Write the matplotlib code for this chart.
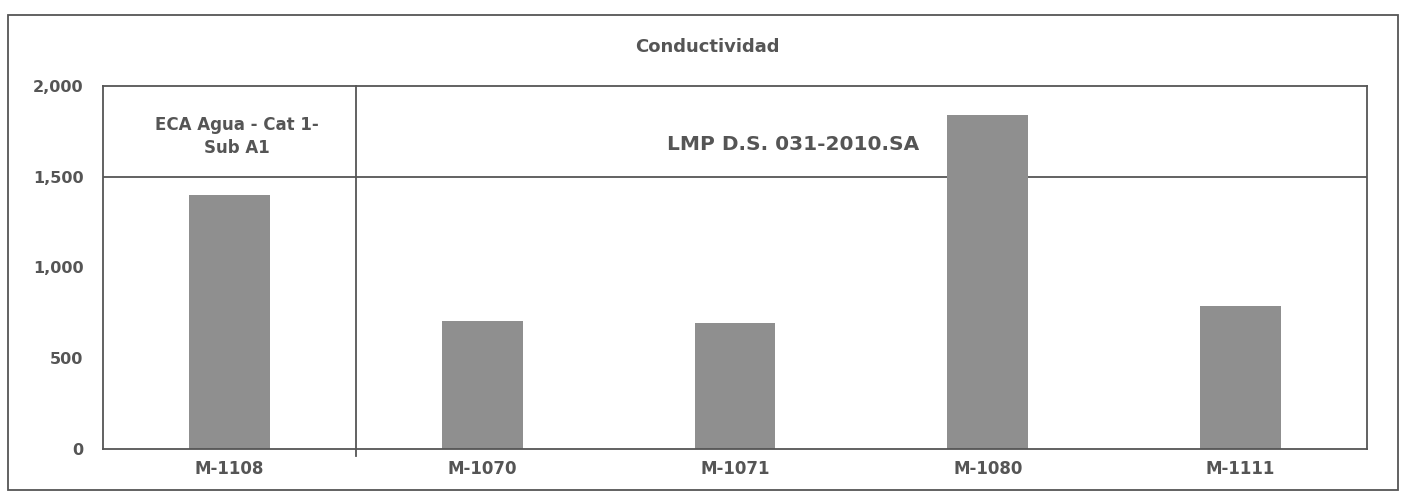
import matplotlib
matplotlib.use("Agg")
import matplotlib.pyplot as plt
from matplotlib.patches import Rectangle
from matplotlib.ticker import FuncFormatter

# Conductividad por estación de muestreo
estaciones = ["M-1108", "M-1070", "M-1071", "M-1080", "M-1111"]
conductividad = [1400, 705, 695, 1840, 790]
limite = 1500
y_ticks = [0, 500, 1000, 1500, 2000]
titulo = "Conductividad"
norma_eca = "ECA Agua - Cat 1-\nSub A1"
norma_lmp = "LMP D.S. 031-2010.SA"

texto = "#555555"
linea = "#555555"
barra = "#8f8f8f"
fuente = "DejaVu Sans"

fig = plt.figure(figsize=(14.10, 4.97), dpi=100)
fig.patch.set_facecolor("white")

# marco exterior del gráfico
fig.add_artist(Rectangle((0.0057, 0.014), 0.9858, 0.956, transform=fig.transFigure,
                         fill=False, edgecolor=linea, linewidth=1.3))

ax = fig.add_axes([0.073, 0.0966, 0.8965, 0.7304])
x = list(range(len(estaciones)))
ax.bar(x, conductividad, width=0.32, color=barra, zorder=2)

ax.set_xlim(-0.5, len(estaciones) - 0.5)
ax.set_ylim(0, 2000)
ax.set_yticks(y_ticks)
ax.yaxis.set_major_formatter(FuncFormatter(lambda v, p: f"{int(v):,}"))
ax.set_xticks(x)
ax.set_xticklabels(estaciones)
ax.tick_params(axis="both", length=0, colors=texto)
ax.tick_params(axis="y", pad=14)
ax.tick_params(axis="x", pad=8)
for lab in ax.get_yticklabels():
    lab.set_fontfamily(fuente)
    lab.set_fontsize(11.5)
    lab.set_fontweight("bold")
    lab.set_color(texto)
for lab in ax.get_xticklabels():
    lab.set_fontfamily(fuente)
    lab.set_fontsize(12)
    lab.set_fontweight("bold")
    lab.set_color(texto)

for s in ax.spines.values():
    s.set_color(linea)
    s.set_linewidth(1.3)

# límite normativo y separación entre normas
ax.axhline(limite, color=linea, linewidth=1.3, zorder=1)
ax.plot([0.5, 0.5], [-40, 2000], color=linea, linewidth=1.3, clip_on=False, zorder=3)

ax.text(0.03, 1720, norma_eca, ha="center", va="center", fontsize=12,
        fontweight="bold", color=texto, family=fuente, linespacing=1.35)
ax.text(2.23, 1676, norma_lmp, ha="center", va="center", fontsize=14.5,
        fontweight="bold", color=texto, family=fuente)

fig.text(0.502, 0.905, titulo, ha="center", va="center", fontsize=13,
         fontweight="bold", color=texto, family=fuente)

fig.savefig("out.png", dpi=100, facecolor="white")
